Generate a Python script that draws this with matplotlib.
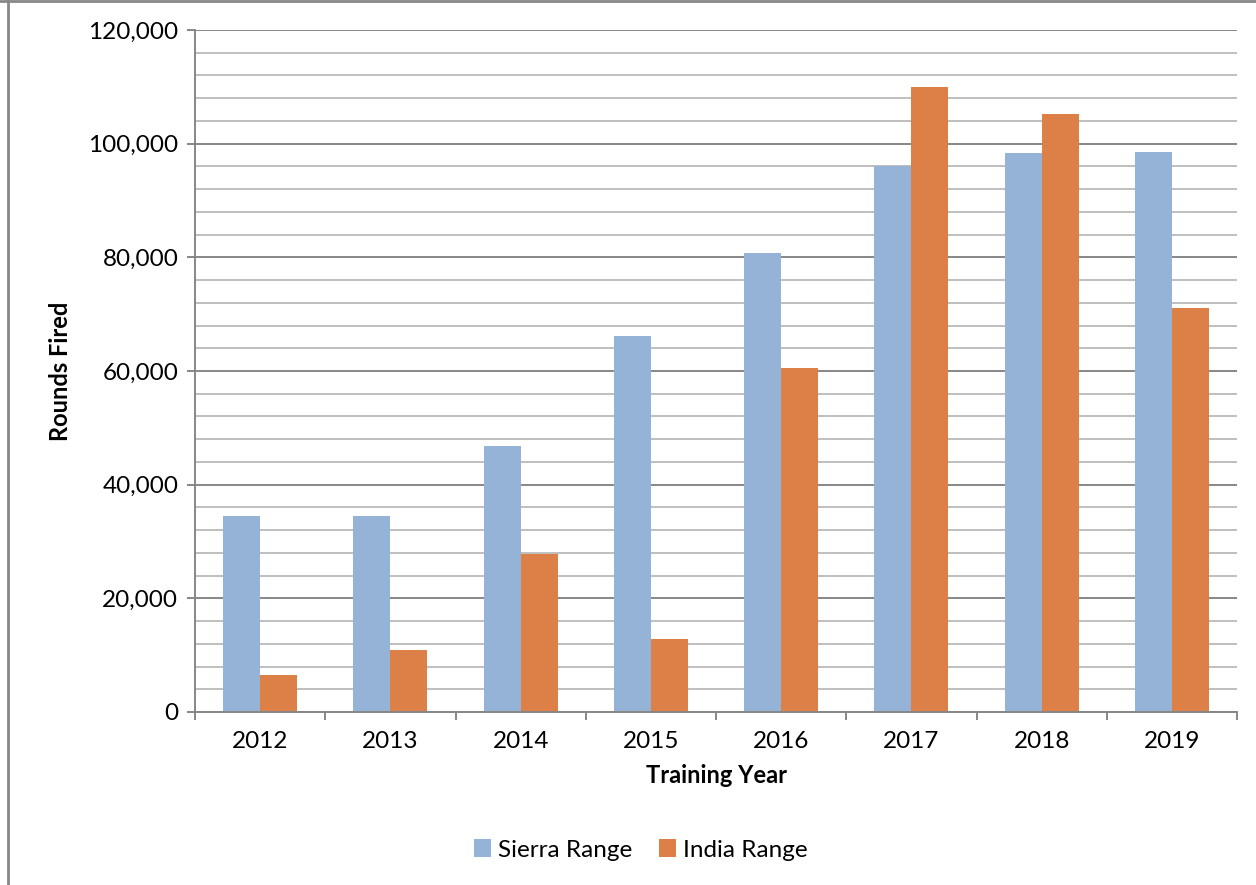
import matplotlib.pyplot as plt
from matplotlib.lines import Line2D
from matplotlib.ticker import MultipleLocator, FuncFormatter, FixedLocator
import numpy as np

plt.rcParams['font.family'] = ['Lato', 'DejaVu Sans']

years = ['2012', '2013', '2014', '2015', '2016', '2017', '2018', '2019']
sierra = [34400, 34500, 46800, 66200, 80800, 96100, 98400, 98500]
india = [6500, 10900, 27800, 12800, 60500, 110000, 105200, 71100]

sierraColor = '#95B3D7'
indiaColor = '#DD8047'
majorGrid = '#878787'
minorGrid = '#BFBFBF'
fs = 17.5

fig = plt.figure(figsize=(12.56, 8.85), dpi=100)
ax = fig.add_axes([195/1256, 1 - 712/885, (1237-195)/1256, (712-30)/885])

x = np.arange(len(years))
w = 0.284
ax.bar(x - w/2, sierra, width=w, color=sierraColor, label='Sierra Range', zorder=3)
ax.bar(x + w/2, india, width=w, color=indiaColor, label='India Range', zorder=3)

ax.set_xlim(-0.5, len(years) - 0.5)
ax.set_ylim(0, 120000)

# gridlines: dark at every 20k, light at every 4k
ax.yaxis.set_major_locator(MultipleLocator(20000))
ax.yaxis.set_minor_locator(MultipleLocator(4000))
ax.yaxis.set_major_formatter(FuncFormatter(lambda v, p: f'{int(v):,}'))
ax.grid(axis='y', which='minor', color=minorGrid, linewidth=1.4, zorder=1)
ax.grid(axis='y', which='major', color=majorGrid, linewidth=1.4, zorder=2)
ax.tick_params(axis='y', which='minor', length=0)
ax.tick_params(axis='y', which='major', length=6, width=1.4, color=majorGrid,
               labelsize=fs, pad=6)

# year labels centred, ticks on the category boundaries
ax.set_xticks(x)
ax.set_xticklabels(years)
ax.tick_params(axis='x', which='major', length=0, labelsize=fs, pad=14)
ax.xaxis.set_minor_locator(FixedLocator(np.arange(-0.5, len(years), 1.0)))
ax.tick_params(axis='x', which='minor', length=6, width=1.4, color=majorGrid)

for s in ['top', 'right']:
    ax.spines[s].set_visible(False)
for s in ['left', 'bottom']:
    ax.spines[s].set_color(majorGrid)
    ax.spines[s].set_linewidth(1.4)
    ax.spines[s].set_zorder(4)

ax.set_xlabel('Training Year', fontsize=fs - 0.5, fontweight='bold', labelpad=8)
ax.set_ylabel('Rounds Fired', fontsize=fs - 0.5, fontweight='bold', labelpad=12)

fig.legend(loc='center', bbox_to_anchor=(641/1256, 1 - 850/885), ncol=2,
           frameon=False, fontsize=fs, handlelength=0.7, handleheight=0.7,
           handletextpad=0.3, columnspacing=1.1)

# chart area border on the left and top
fig.add_artist(Line2D([8/1256, 8/1256], [0, 1], color='#878787', linewidth=2))
fig.add_artist(Line2D([0, 1], [1 - 1/885, 1 - 1/885], color='#878787', linewidth=2))

fig.savefig('out.png', dpi=100)
